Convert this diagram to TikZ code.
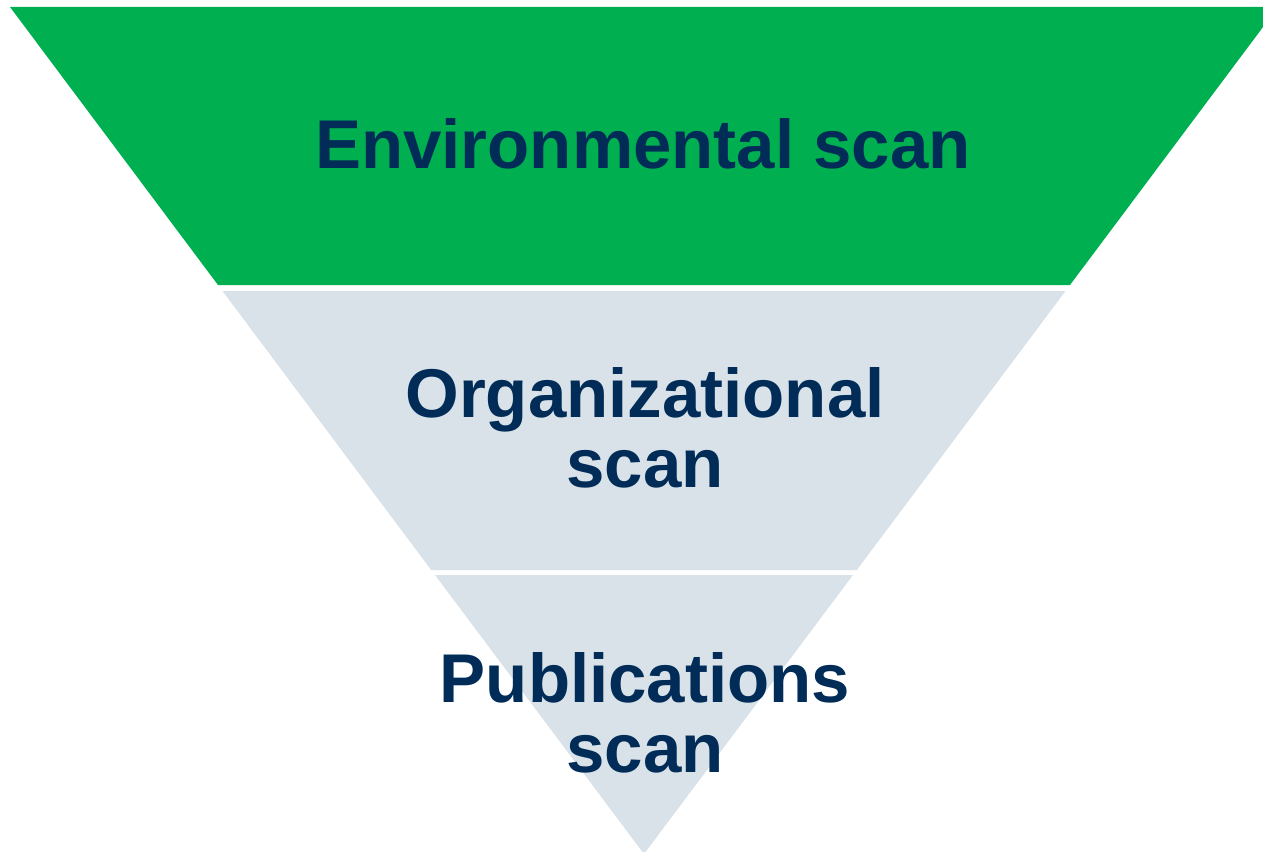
\documentclass[tikz,border=0pt]{standalone}
\usepackage{fontspec}
\setmainfont{Liberation Sans}
\definecolor{bandgreen}{HTML}{00B050}
\definecolor{bandgray}{HTML}{D9E2E9}
\definecolor{labelnavy}{HTML}{002C57}
\tikzset{
  band/.style={draw=none},
  lbl/.style={text=labelnavy, font=\fontsize{69}{70}\selectfont\bfseries, align=center, inner sep=0pt, anchor=base}
}
\begin{document}
\begin{tikzpicture}[x=1pt,y=-1pt]
  \useasboundingbox (0,0) rectangle (1263,851);
  \clip (0,0) rectangle (1263,851);
  % top band (green)
  \fill[band, bandgreen] (10,7) -- (1278,7) -- (1070,285) -- (218,285) -- cycle;
  % middle band (gray)
  \fill[band, bandgray] (222.5,291) -- (1065.5,291) -- (856.8,570) -- (431.2,570) -- cycle;
  % bottom band (gray)
  \fill[band, bandgray] (435,575) -- (853,575) -- (644,854) -- cycle;
  \node[lbl] (env) at (643,168) {Environmental scan};
  \node[lbl] (org) at (645,487) {Organizational\\scan};
  \node[lbl] (pub) at (645,772) {Publications\\scan};
\end{tikzpicture}
\end{document}
